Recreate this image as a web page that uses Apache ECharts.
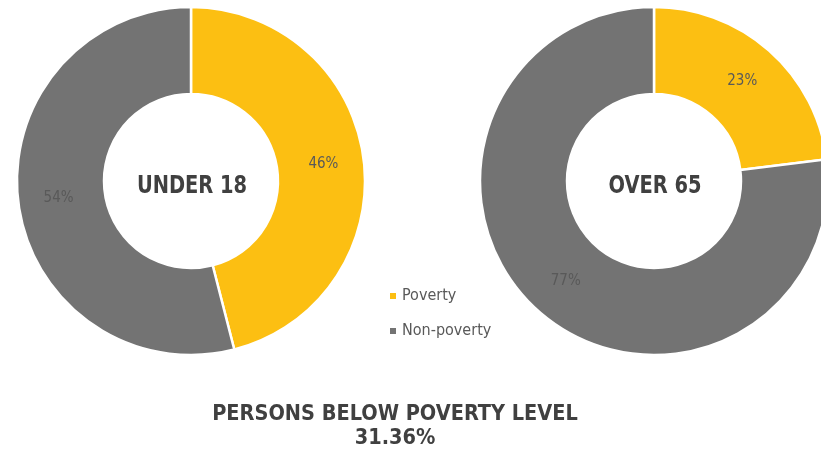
<!DOCTYPE html>
<html><head><meta charset="utf-8">
<script src="https://cdn.jsdelivr.net/npm/echarts@6/dist/echarts.min.js"></script>
<style>html,body{margin:0;padding:0;background:#fff}#c{width:821px;height:454px}</style>
</head><body><div id="c"></div>
<script>
const categories = ['Poverty', 'Non-poverty'];
const under18 = [46, 54];
const over65 = [23, 77];
const groupLabels = ['UNDER 18', 'OVER 65'];
const mainTitle = 'PERSONS BELOW POVERTY LEVEL';
const mainValue = '31.36%';

const FONT = '"Liberation Sans Narrow", "DejaVu Sans Condensed", "Roboto", sans-serif';
const colors = ['#FCBF12', '#737373'];
const centersX = [191, 654];

function pieSeries(name, vals, cx) {
  return {
    type: 'pie', name: name,
    center: [cx, 181], radius: [87, 174],
    startAngle: 90, clockwise: true,
    avoidLabelOverlap: false,
    itemStyle: { borderColor: '#fff', borderWidth: 2.5 },
    label: { show: true, position: 'inside', formatter: '{c}%', color: '#595959', fontFamily: FONT, fontSize: 15 },
    labelLine: { show: false },
    emphasis: { disabled: true },
    data: categories.map((c, i) => ({ name: c, value: vals[i] }))
  };
}

function centerText(txt, cx) {
  return {
    type: 'text', x: cx + 1, y: 187, scaleX: 0.9, silent: true,
    style: { text: txt, fontFamily: FONT, fontWeight: 'bold', fontSize: 24, fill: '#404040',
             align: 'center', verticalAlign: 'middle' }
  };
}

const chart = echarts.init(document.getElementById('c'));
chart.setOption({
  animation: false,
  color: colors,
  graphic: groupLabels.map((g, i) => centerText(g, centersX[i])),
  title: [
    { text: mainTitle, subtext: mainValue, left: 395, top: 402, textAlign: 'center', itemGap: 0, padding: 0,
      textStyle: { fontFamily: FONT, fontWeight: 'bold', fontSize: 21.5, color: '#404040', lineHeight: 24 },
      subtextStyle: { fontFamily: FONT, fontWeight: 'bold', fontSize: 21.5, color: '#404040', lineHeight: 25 } }
  ],
  legend: {
    orient: 'vertical', left: 388, top: 288, itemWidth: 8, itemHeight: 8, itemGap: 19,
    icon: 'rect', padding: 0,
    textStyle: { fontFamily: FONT, fontSize: 16, color: '#595959' },
    data: categories
  },
  series: [ pieSeries(groupLabels[0], under18, centersX[0]), pieSeries(groupLabels[1], over65, centersX[1]) ]
});
</script></body></html>
